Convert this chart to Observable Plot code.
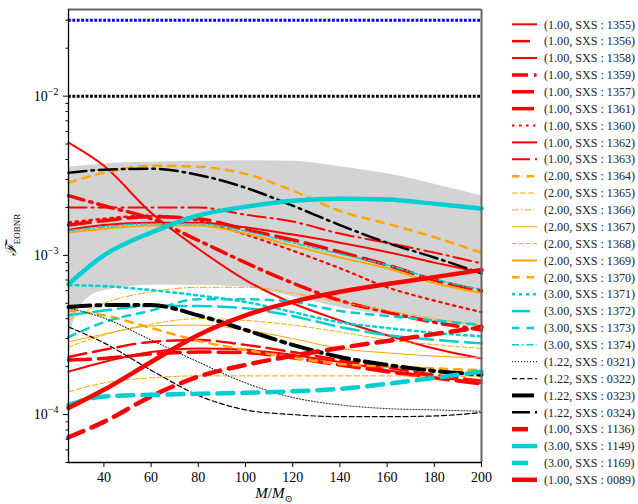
<!DOCTYPE html>
<html><head><meta charset="utf-8">
<script src="https://cdn.jsdelivr.net/npm/d3@7"></script>
<script src="https://cdn.jsdelivr.net/npm/@observablehq/plot@0.6"></script>
<style>
body{margin:0;background:#fff}
#wrap{width:638px;height:504px}
</style>
</head><body><div id="wrap"></div>
<script>
// total mass grid (M / M_sun)
const M = [25, 40, 60, 80, 100, 120, 140, 160, 180, 200];
const xTicks = [40, 60, 80, 100, 120, 140, 160, 180, 200];
const yMajor = [1e-4, 1e-3, 1e-2];

// shaded band
const bandMass = [25, 28, 32, 40, 60, 80, 100, 120, 140, 160, 180, 200];
const bandLow  = [2.9e-4, 4.2e-4, 5.2e-4, 6.0e-4, 6.5e-4, 6.5e-4, 6.3e-4, 5.5e-4, 4.7e-4, 4.2e-4, 3.8e-4, 3.5e-4];
const bandHigh = [3.6e-3, 3.62e-3, 3.65e-3, 3.75e-3, 3.85e-3, 3.9e-3, 3.93e-3, 3.9e-3, 3.6e-3, 3.25e-3, 2.8e-3, 2.37e-3];

// reference horizontal levels
const levelBlue = 0.03;
const levelBlack = 0.01;

// series values (one per M)
const s1355 = [5.1e-3, 3.65e-3, 1.85e-3, 1.1e-3, 7.0e-4, 5.0e-4, 3.9e-4, 3.15e-4, 2.6e-4, 2.25e-4];
const s1356 = [2.3e-4, 2.55e-4, 2.86e-4, 2.94e-4, 2.74e-4, 2.47e-4, 2.2e-4, 1.97e-4, 1.78e-4, 1.63e-4];
const s1358 = [1.86e-4, 2.14e-4, 2.47e-4, 2.6e-4, 2.55e-4, 2.37e-4, 2.14e-4, 1.9e-4, 1.73e-4, 1.58e-4];
const s1359 = [2.37e-3, 2.05e-3, 1.7e-3, 1.24e-3, 9.0e-4, 6.7e-4, 5.2e-4, 4.4e-4, 3.8e-4, 3.4e-4];
const s1357 = [1.55e-3, 1.65e-3, 1.75e-3, 1.7e-3, 1.45e-3, 1.25e-3, 1.05e-3, 8.7e-4, 7.0e-4, 6.0e-4];
const s1361 = [2.2e-4, 2.25e-4, 2.4e-4, 2.47e-4, 2.45e-4, 2.27e-4, 2.05e-4, 1.86e-4, 1.7e-4, 1.56e-4];
const s1360 = [1.61e-3, 1.7e-3, 1.78e-3, 1.65e-3, 1.35e-3, 1.07e-3, 8.3e-4, 6.3e-4, 5.2e-4, 4.4e-4];
const s1362 = [1.45e-3, 1.55e-3, 1.6e-3, 1.6e-3, 1.5e-3, 1.35e-3, 1.2e-3, 1.05e-3, 9.0e-4, 7.8e-4];
const s1363 = [2.0e-3, 2.0e-3, 2.0e-3, 2.0e-3, 1.8e-3, 1.63e-3, 1.37e-3, 1.2e-3, 1.04e-3, 8.9e-4];
const s1364 = [2.86e-3, 3.3e-3, 3.65e-3, 3.6e-3, 3.25e-3, 2.55e-3, 1.9e-3, 1.58e-3, 1.3e-3, 1.04e-3];
const s1365 = [1.39e-4, 1.58e-4, 1.7e-4, 1.75e-4, 1.75e-4, 1.75e-4, 1.75e-4, 1.75e-4, 1.74e-4, 1.74e-4];
const s1366 = [3.9e-4, 5.0e-4, 5.9e-4, 6.3e-4, 6.3e-4, 5.8e-4, 5.1e-4, 4.5e-4, 4.0e-4, 3.65e-4];
const s1367 = [2.86e-4, 3.2e-4, 3.6e-4, 3.65e-4, 3.4e-4, 3.0e-4, 2.6e-4, 2.44e-4, 2.33e-4, 2.27e-4];
const s1368 = [2.66e-4, 3.16e-4, 3.7e-4, 4.0e-4, 3.9e-4, 3.65e-4, 3.3e-4, 2.95e-4, 2.75e-4, 2.6e-4];
const s1369 = [1.39e-3, 1.47e-3, 1.54e-3, 1.54e-3, 1.37e-3, 1.15e-3, 9.7e-4, 8.3e-4, 6.7e-4, 5.8e-4];
const s1370 = [4.5e-4, 4.2e-4, 3.5e-4, 2.9e-4, 2.55e-4, 2.27e-4, 2.08e-4, 2.0e-4, 1.95e-4, 1.9e-4];
const s1371 = [6.5e-4, 6.4e-4, 6.05e-4, 5.6e-4, 5.1e-4, 4.4e-4, 3.8e-4, 3.5e-4, 3.26e-4, 3.1e-4];
const s1372 = [4.2e-4, 4.5e-4, 4.8e-4, 4.8e-4, 4.66e-4, 4.16e-4, 3.55e-4, 3.16e-4, 2.95e-4, 2.8e-4];
const s1373 = [3.07e-4, 3.8e-4, 4.5e-4, 5.3e-4, 5.3e-4, 5.1e-4, 4.47e-4, 4.16e-4, 3.9e-4, 3.65e-4];
const s1374 = [1.43e-3, 1.51e-3, 1.58e-3, 1.58e-3, 1.42e-3, 1.2e-3, 1.02e-3, 8.7e-4, 7.1e-4, 6.1e-4];
const s0321 = [4.67e-4, 4.04e-4, 2.94e-4, 2.14e-4, 1.58e-4, 1.28e-4, 1.15e-4, 1.09e-4, 1.07e-4, 1.05e-4];
const s0322 = [3.55e-4, 2.82e-4, 1.9e-4, 1.32e-4, 1.07e-4, 1.0e-4, 0.97e-4, 0.97e-4, 0.98e-4, 1.03e-4];
const s0323 = [4.73e-4, 4.87e-4, 4.87e-4, 4.2e-4, 3.4e-4, 2.74e-4, 2.3e-4, 2.05e-4, 1.88e-4, 1.78e-4];
const s0324 = [3.3e-3, 3.45e-3, 3.5e-3, 3.2e-3, 2.66e-3, 2.05e-3, 1.55e-3, 1.2e-3, 9.7e-4, 7.7e-4];
const s1136 = [7.2e-5, 9.0e-5, 1.3e-4, 1.73e-4, 2.05e-4, 2.34e-4, 2.62e-4, 2.9e-4, 3.2e-4, 3.55e-4];
const s1149 = [6.6e-4, 1.0e-3, 1.39e-3, 1.78e-3, 2.02e-3, 2.2e-3, 2.27e-3, 2.24e-3, 2.11e-3, 1.97e-3];
const s1169 = [1.15e-4, 1.3e-4, 1.33e-4, 1.35e-4, 1.37e-4, 1.4e-4, 1.45e-4, 1.56e-4, 1.7e-4, 1.86e-4];
const s0089 = [1.1e-4, 1.43e-4, 2.14e-4, 3.16e-4, 4.2e-4, 5.1e-4, 5.9e-4, 6.6e-4, 7.3e-4, 8.1e-4];

const labels = [
  "(1.00, SXS : 1355)", "(1.00, SXS : 1356)", "(1.00, SXS : 1358)", "(1.00, SXS : 1359)",
  "(1.00, SXS : 1357)", "(1.00, SXS : 1361)", "(1.00, SXS : 1360)", "(1.00, SXS : 1362)",
  "(1.00, SXS : 1363)", "(2.00, SXS : 1364)", "(2.00, SXS : 1365)", "(2.00, SXS : 1366)",
  "(2.00, SXS : 1367)", "(2.00, SXS : 1368)", "(2.00, SXS : 1369)", "(2.00, SXS : 1370)",
  "(3.00, SXS : 1371)", "(3.00, SXS : 1372)", "(3.00, SXS : 1373)", "(3.00, SXS : 1374)",
  "(1.22, SXS : 0321)", "(1.22, SXS : 0322)", "(1.22, SXS : 0323)", "(1.22, SXS : 0324)",
  "(1.00, SXS : 1136)", "(3.00, SXS : 1149)", "(3.00, SXS : 1169)", "(1.00, SXS : 0089)"
];
const seriesValues = [s1355, s1356, s1358, s1359, s1357, s1361, s1360, s1362, s1363,
  s1364, s1365, s1366, s1367, s1368, s1369, s1370,
  s1371, s1372, s1373, s1374,
  s0321, s0322, s0323, s0324,
  s1136, s1149, s1169, s0089];

// styles
const RED = "#ff0000", ORA = "#ffa500", CYA = "#00ced1", BLK = "#000000";
const styles = [
  {c: RED, w: 2, d: null},
  {c: RED, w: 2.5, d: "18,7"},
  {c: RED, w: 2, d: null},
  {c: RED, w: 3.5, d: "16,6,2.5,6"},
  {c: RED, w: 3.5, d: "22,8"},
  {c: RED, w: 3.5, d: "22,8"},
  {c: RED, w: 2.2, d: "2.5,4.5"},
  {c: RED, w: 2, d: null},
  {c: RED, w: 2, d: "18,5,2,5"},
  {c: ORA, w: 2.5, d: "7.5,7"},
  {c: ORA, w: 1, d: "5.5,2.7"},
  {c: ORA, w: 1, d: "6.5,2.5,1,2.5"},
  {c: ORA, w: 1, d: null},
  {c: ORA, w: 1, d: "4.5,2.5"},
  {c: ORA, w: 2, d: null},
  {c: ORA, w: 2.5, d: "7.5,7"},
  {c: CYA, w: 2.5, d: "3,4"},
  {c: CYA, w: 2.5, d: "18,7"},
  {c: CYA, w: 2.5, d: "7.5,7"},
  {c: CYA, w: 1.5, d: "7,3,1.5,3"},
  {c: BLK, w: 1, d: "1,2"},
  {c: BLK, w: 1.2, d: "5,2.7"},
  {c: BLK, w: 4, d: "22,6,4,6"},
  {c: BLK, w: 2.5, d: "18,5,2.5,5"},
  {c: RED, w: 4.5, d: "16,9"},
  {c: CYA, w: 4.5, d: null},
  {c: CYA, w: 4.5, d: "16,9"},
  {c: RED, w: 4.5, d: null}
];

const bandRows = bandMass.map((m, i) => ({m, lo: bandLow[i], hi: bandHigh[i]}));
const minorTicks = [];
for (const e of [-5, -4, -3, -2]) for (let k = 2; k <= 9; k++) {
  const v = k * Math.pow(10, e);
  if (v >= 5e-5 && v <= 0.035) minorTicks.push(v);
}
const supFmt = d => "10^" + Math.round(Math.log10(d));

const lineMarks = seriesValues.map((vals, i) => Plot.line(
  vals.map((v, j) => ({m: M[j], v})),
  {x: "m", y: "v", stroke: styles[i].c, strokeWidth: styles[i].w,
   strokeDasharray: styles[i].d, curve: "monotone-x"}));

const plot = Plot.plot({
  width: 638, height: 504,
  marginLeft: 68, marginRight: 157, marginTop: 9, marginBottom: 42,
  style: {fontFamily: "'Liberation Serif', 'DejaVu Serif', serif", fontSize: "14px", color: "#000", background: "#fff"},
  x: {domain: [25, 200]},
  y: {type: "log", domain: [5e-5, 0.035]},
  marks: [
    Plot.areaY(bandRows, {x: "m", y1: "lo", y2: "hi", fill: "#d3d3d3", curve: "monotone-x"}),
    ...lineMarks,
    Plot.ruleY([levelBlue], {stroke: "#0000ff", strokeWidth: 3, strokeDasharray: "2.8,1.6"}),
    Plot.ruleY([levelBlack], {stroke: "#000", strokeWidth: 3, strokeDasharray: "2.8,1.6"}),
    Plot.ruleY([0.035], {stroke: "#666", strokeWidth: 2}),
    Plot.ruleX([200], {stroke: "#666", strokeWidth: 2}),
    Plot.ruleX([25], {stroke: "#000", strokeWidth: 1.3}),
    Plot.ruleY([5e-5], {stroke: "#000", strokeWidth: 1.3}),
    Plot.axisX({ticks: xTicks, tickFormat: d3.format("d"), tickSize: 5, tickPadding: 5, label: null}),
    Plot.axisY({ticks: yMajor, tickFormat: supFmt, tickSize: 5, tickPadding: 5, label: null}),
    Plot.axisY({ticks: minorTicks, tickFormat: () => "", tickSize: 2.5, label: null})
  ]
});

// superscript tick labels
d3.select(plot).selectAll("text").each(function() {
  const t = this.textContent;
  if (/^10\^/.test(t)) {
    const e = t.slice(3).replace("-", "\u2212");
    const sel = d3.select(this);
    sel.text(null);
    sel.append("tspan").text("10");
    sel.append("tspan").attr("dy", "-6").attr("font-size", "10px").text(e);
  }
});

const svg = d3.select(plot);
const ff = "'Liberation Serif', 'DejaVu Serif', serif";
// axis labels
const xl = svg.append("text").attr("x", 274).attr("y", 498).attr("text-anchor", "middle")
  .attr("font-family", ff).attr("font-size", "15px");
xl.append("tspan").attr("font-style", "italic").text("M");
xl.append("tspan").text("/");
xl.append("tspan").attr("font-style", "italic").text("M");
xl.append("tspan").attr("dy", "4").attr("font-size", "10px").text("\u2299");

const yl = svg.append("text").attr("transform", "translate(16,235) rotate(-90)")
  .attr("text-anchor", "middle").attr("font-family", ff).attr("font-size", "15px");
yl.append("tspan").attr("font-style", "italic").text("\u2131\u0304");
yl.append("tspan").attr("dy", "4").attr("font-size", "9px").text("EOBNR");

// legend
const lg = svg.append("g").attr("text-anchor", "start");
labels.forEach((lab, i) => {
  const y = 24.3 + i * 16.87;
  const s = styles[i];
  lg.append("line").attr("x1", 512).attr("x2", 537).attr("y1", y).attr("y2", y)
    .attr("stroke", s.c).attr("stroke-width", s.w)
    .attr("stroke-dasharray", s.d || null);
  lg.append("text").attr("x", 544).attr("y", y).attr("dy", "0.35em").attr("text-anchor", "start")
    .attr("font-family", ff).attr("font-size", "12.1px").attr("fill", "#222").text(lab);
});

document.getElementById("wrap").appendChild(plot);
</script>
</body></html>
